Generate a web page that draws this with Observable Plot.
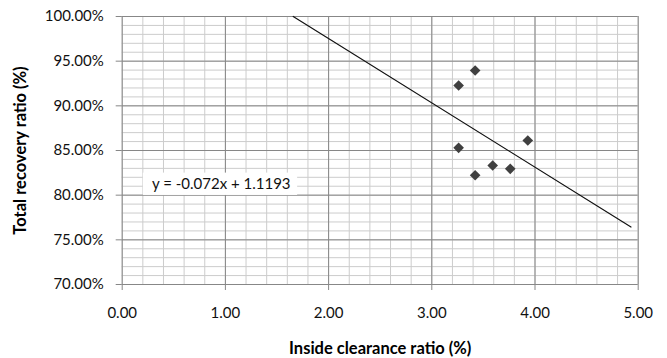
<!DOCTYPE html>
<html><head><meta charset="utf-8">
<script src="https://cdn.jsdelivr.net/npm/d3@7"></script>
<script src="https://cdn.jsdelivr.net/npm/@observablehq/plot@0.6"></script>
<style>html,body{margin:0;padding:0;background:#fff}</style>
</head><body><div id="chart"></div>
<script>
// Data
const clearance = [3.26, 3.42, 3.26, 3.42, 3.59, 3.76, 3.93];
const recovery  = [0.9228, 0.9396, 0.8530, 0.8223, 0.8332, 0.8295, 0.8612];
const trendSlope = -0.072;
const trendIntercept = 1.1193;
const trendRange = [1.657, 4.93];
const trendLabel = "y = -0.072x + 1.1193";
const xTicks = [0, 1, 2, 3, 4, 5];
const yTicks = [0.70, 0.75, 0.80, 0.85, 0.90, 0.95, 1.00];
const xMinor = d3.range(0, 5.001, 0.2);
const yMinor = d3.range(0.70, 1.0001, 0.01);
const xTitle = "Inside clearance ratio (%)";
const yTitle = "Total recovery ratio (%)";
const labelPos = {x: 0.96, y: 0.8122};
const labelBox = {x1: 0.205, x2: 1.70, y1: 0.7997, y2: 0.8247};

const points = clearance.map((x, i) => ({x, y: recovery[i]}));
const trend = trendRange.map(x => ({x, y: trendSlope * x + trendIntercept}));

const chart = Plot.plot({
  width: 667, height: 358,
  marginLeft: 121.7, marginRight: 29.3, marginTop: 16, marginBottom: 74,
  style: {fontFamily: "Lato, 'Open Sans', sans-serif", fontSize: "15px", color: "#111", background: "#fff"},
  x: {domain: [0, 5]},
  y: {domain: [0.70, 1.00]},
  marks: [
    Plot.ruleX(xMinor, {stroke: "#cccccc", strokeWidth: 1}),
    Plot.ruleY(yMinor, {stroke: "#cccccc", strokeWidth: 1}),
    Plot.ruleX(xTicks, {stroke: "#878787", strokeWidth: 1}),
    Plot.ruleY(yTicks, {stroke: "#878787", strokeWidth: 1}),
    Plot.axisX({ticks: xTicks, tickFormat: d3.format(".2f"), tickSize: 6, tickPadding: 17, stroke: "#878787", fill: "#111", label: null, fontSize: 15}),
    Plot.axisY({ticks: yTicks, tickFormat: d3.format(".2%"), tickSize: 6, tickPadding: 12.4, stroke: "#878787", fill: "#111", label: null, fontSize: 15}),
    Plot.rect([labelBox], {x1: "x1", x2: "x2", y1: "y1", y2: "y2", fill: "#fff"}),
    Plot.text([labelPos], {x: "x", y: "y", text: () => trendLabel, fontSize: 15, fill: "#111"}),
    Plot.line(trend, {x: "x", y: "y", stroke: "#111", strokeWidth: 1.2}),
    Plot.dot(points, {x: "x", y: "y", symbol: "diamond2", r: 4.8, fill: "#404040", stroke: "none"}),
    Plot.text([xTitle], {text: d => d, frameAnchor: "bottom", lineAnchor: "middle", dy: 64, fontWeight: "bold", fontSize: 16.5, fill: "#000"}),
    Plot.text([yTitle], {text: d => d, frameAnchor: "left", textAnchor: "middle", lineAnchor: "middle", dx: -101.5, rotate: -90, fontWeight: "bold", fontSize: 16.5, fill: "#000"})
  ]
});
document.getElementById("chart").appendChild(chart);
</script>
</body></html>
